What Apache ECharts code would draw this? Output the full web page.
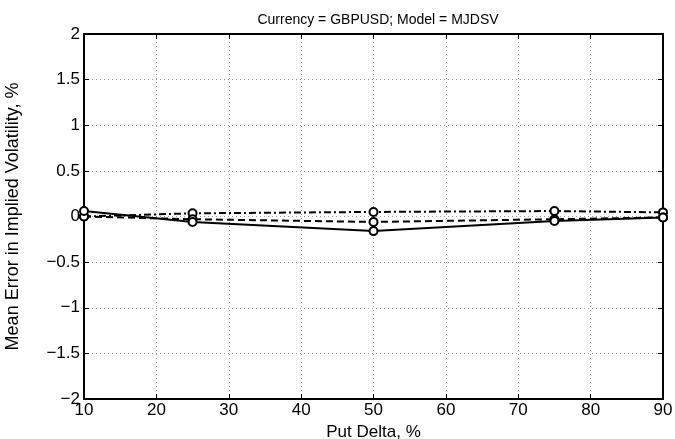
<!DOCTYPE html>
<html>
<head>
<meta charset="utf-8">
<script src="https://cdn.jsdelivr.net/npm/echarts@6/dist/echarts.min.js"></script>
<style>
  html, body { margin: 0; padding: 0; background: #fff; }
  #chart { width: 675px; height: 439px; }
</style>
</head>
<body>
<div id="chart"></div>
<script>
// Put delta grid points (%)
const putDelta = [10, 25, 50, 75, 90];
// Mean implied-volatility error (%) for three series
const errSolid   = [0.06, -0.06, -0.16, -0.05, -0.01];
const errDashed  = [0.00, -0.03, -0.06, -0.03, -0.01];
const errDashDot = [0.00, 0.035, 0.05, 0.06, 0.045];

const titleText = 'Currency = GBPUSD; Model = MJDSV';
const xName = 'Put Delta, %';
const yName = 'Mean Error in Implied Volatility, %';

const FONT = 'Liberation Sans';
const fmt = v => (v < 0 ? '\u2212' + Math.abs(v) : String(v));

function pairs(ys) { return putDelta.map((x, i) => [x, ys[i]]); }

const gridLine = { show: true, lineStyle: { color: '#999', type: [1, 3], width: 1 } };
const frame = { show: true, onZero: false, lineStyle: { color: '#000', width: 2 } };
const tickIn = { show: true, inside: true, length: 5, lineStyle: { color: '#000', width: 1 } };

function mk(name, ys, type, z) {
  return {
    name, type: 'line', data: pairs(ys), z,
    symbol: 'emptyCircle', symbolSize: 8,
    itemStyle: { color: '#000', borderColor: '#000', borderWidth: 2 },
    lineStyle: { color: '#000', width: 2, type },
    emphasis: { disabled: true }, animation: false
  };
}

const chart = echarts.init(document.getElementById('chart'));
chart.setOption({
  animation: false,
  textStyle: { fontFamily: FONT },
  title: {
    text: titleText, left: 373, top: 8, textAlign: 'center',
    textStyle: { fontFamily: FONT, fontSize: 14, fontWeight: 'normal', color: '#000' }
  },
  grid: { left: 84, right: 12, top: 34, bottom: 40, containLabel: false, outerBoundsMode: 'none' },
  xAxis: [{
    type: 'value', min: 10, max: 90, interval: 10,
    axisLine: frame, axisTick: tickIn, splitLine: gridLine,
    axisLabel: { color: '#000', fontSize: 17, fontFamily: FONT, margin: 3, formatter: fmt },
    name: xName, nameLocation: 'middle', nameGap: 19,
    nameTextStyle: { color: '#000', fontSize: 17, fontFamily: FONT }
  }, {
    type: 'value', position: 'top', min: 10, max: 90, interval: 10,
    axisLine: frame, axisTick: tickIn, splitLine: { show: false }, axisLabel: { show: false }
  }],
  yAxis: [{
    type: 'value', min: -2, max: 2, interval: 0.5,
    axisLine: frame, axisTick: tickIn, splitLine: gridLine,
    axisLabel: { color: '#000', fontSize: 17, fontFamily: FONT, margin: 4, formatter: fmt },
    name: yName, nameLocation: 'middle', nameGap: 62, nameRotate: 90,
    nameTextStyle: { color: '#000', fontSize: 18, fontFamily: FONT }
  }, {
    type: 'value', position: 'right', min: -2, max: 2, interval: 0.5,
    axisLine: frame, axisTick: tickIn, splitLine: { show: false }, axisLabel: { show: false }
  }],
  series: [
    mk('dashdot', errDashDot, [7, 3, 2, 3], 3),
    mk('dashed', errDashed, [7, 4], 4),
    mk('solid', errSolid, 'solid', 5)
  ]
});
</script>
</body>
</html>
